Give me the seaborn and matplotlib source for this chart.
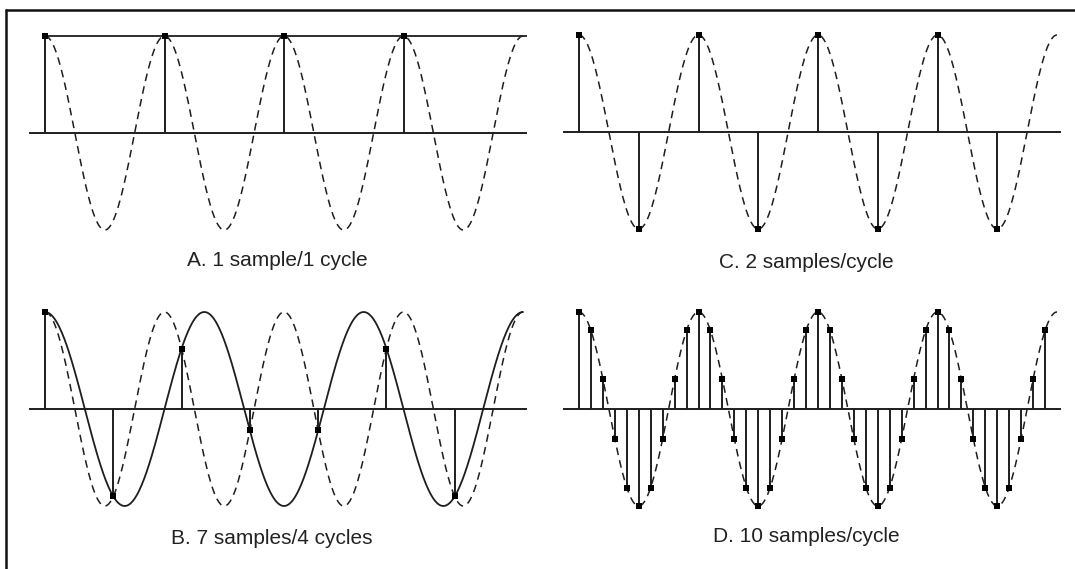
import numpy as np
import pandas as pd
import matplotlib
matplotlib.use("Agg")
import matplotlib.pyplot as plt
from matplotlib.lines import Line2D
import seaborn as sns

sns.set_theme(style="white")
plt.rcParams["font.family"] = ["Liberation Sans", "DejaVu Sans"]

# ---------------- data ----------------
panel_titles = ["A. 1 sample/1 cycle", "B. 7 samples/4 cycles",
                "C. 2 samples/cycle", "D. 10 samples/cycle"]
signal_cycles = 4          # cycles of the analog signal drawn in each panel
signal_amplitude = 1.0

a_times = [0, 1, 2, 3]
a_values = [1.0, 1.0, 1.0, 1.0]
a_alias_freq = 0.0          # DC alias

b_times = [0.0, 0.571, 1.143, 1.714, 2.286, 2.857, 3.429]
b_values = [1.0, -0.90, 0.62, -0.22, -0.22, 0.62, -0.90]
b_alias_freq = 0.75         # 3 cycles over the 4 signal cycles

c_times = [0.0, 0.5, 1.0, 1.5, 2.0, 2.5, 3.0, 3.5]
c_values = [1.0, -1.0, 1.0, -1.0, 1.0, -1.0, 1.0, -1.0]

d_times = [0.0, 0.1, 0.2, 0.3, 0.4, 0.5, 0.6, 0.7, 0.8, 0.9,
           1.0, 1.1, 1.2, 1.3, 1.4, 1.5, 1.6, 1.7, 1.8, 1.9,
           2.0, 2.1, 2.2, 2.3, 2.4, 2.5, 2.6, 2.7, 2.8, 2.9,
           3.0, 3.1, 3.2, 3.3, 3.4, 3.5, 3.6, 3.7, 3.8, 3.9]
d_values = [1.0, 0.81, 0.31, -0.31, -0.81, -1.0, -0.81, -0.31, 0.31, 0.81,
            1.0, 0.81, 0.31, -0.31, -0.81, -1.0, -0.81, -0.31, 0.31, 0.81,
            1.0, 0.81, 0.31, -0.31, -0.81, -1.0, -0.81, -0.31, 0.31, 0.81,
            1.0, 0.81, 0.31, -0.31, -0.81, -1.0, -0.81, -0.31, 0.31, 0.81]

# ---------------- layout (pixels) ----------------
W, H = 1075, 569
px_per_cycle = 119.5
amp_px = 97.0
ylim = 1.15
ink = "#1e1e1e"

fig = plt.figure(figsize=(W / 100, H / 100), dpi=100)
fig.patch.set_facecolor("white")


def make_axes(t0_px, center_px):
    left_px = t0_px - 16
    right_px = t0_px + 482
    h_px = 2 * ylim * amp_px
    top_px = center_px - h_px / 2
    ax = fig.add_axes([left_px / W, 1 - (top_px + h_px) / H,
                       (right_px - left_px) / W, h_px / H])
    ax.set_xlim(-16 / px_per_cycle, (right_px - t0_px) / px_per_cycle)
    ax.set_ylim(-ylim, ylim)
    ax.set_axis_off()
    return ax


t_dense = np.linspace(0, signal_cycles, 600)
signal_df = pd.DataFrame({"t": t_dense,
                          "v": signal_amplitude * np.cos(2 * np.pi * t_dense)})


def draw_panel(ax, times, values, alias=None):
    sns.lineplot(data=signal_df, x="t", y="v", ax=ax, color=ink, lw=1.1,
                 dashes=False, estimator=None, sort=False, zorder=2)
    ax.lines[-1].set_dashes((5, 3.5))
    if alias is not None:
        t_a = np.linspace(0, ax.get_xlim()[1] if alias == 0 else signal_cycles, 600)
        adf = pd.DataFrame({"t": t_a, "v": np.cos(2 * np.pi * alias * t_a)})
        sns.lineplot(data=adf, x="t", y="v", ax=ax, color=ink, lw=1.3,
                     estimator=None, sort=False, zorder=3)
    ax.vlines(times, 0, values, color=ink, lw=1.4, zorder=3)
    ax.axhline(0, color=ink, lw=1.4, zorder=3)
    sns.scatterplot(x=times, y=values, ax=ax, marker="s", s=14, color="black",
                    edgecolor="black", linewidth=0, zorder=4)
    ax.set_xlabel("")
    ax.set_ylabel("")
    ax.set_axis_off()


axA = make_axes(45, 133)
draw_panel(axA, a_times, a_values, alias=a_alias_freq)
axB = make_axes(45, 409)
draw_panel(axB, b_times, b_values, alias=b_alias_freq)
axC = make_axes(579, 132)
draw_panel(axC, c_times, c_values)
axD = make_axes(579, 409)
draw_panel(axD, d_times, d_values)

label_pos = [(277, 261), (272, 538), (806, 263), (806, 537)]
for title, (lx, ly) in zip(panel_titles, label_pos):
    fig.text(lx / W, 1 - ly / H, title, ha="center", va="center",
             fontsize=15, color="#222222")

# outer frame (left and top edges)
fig.add_artist(Line2D([6 / W, 6 / W], [0, 1 - 10 / H], transform=fig.transFigure,
                      color="#111111", lw=1.8))
fig.add_artist(Line2D([6 / W, 1], [1 - 10 / H, 1 - 10 / H], transform=fig.transFigure,
                      color="#111111", lw=1.8))

fig.savefig("out.png", dpi=100, facecolor="white")
